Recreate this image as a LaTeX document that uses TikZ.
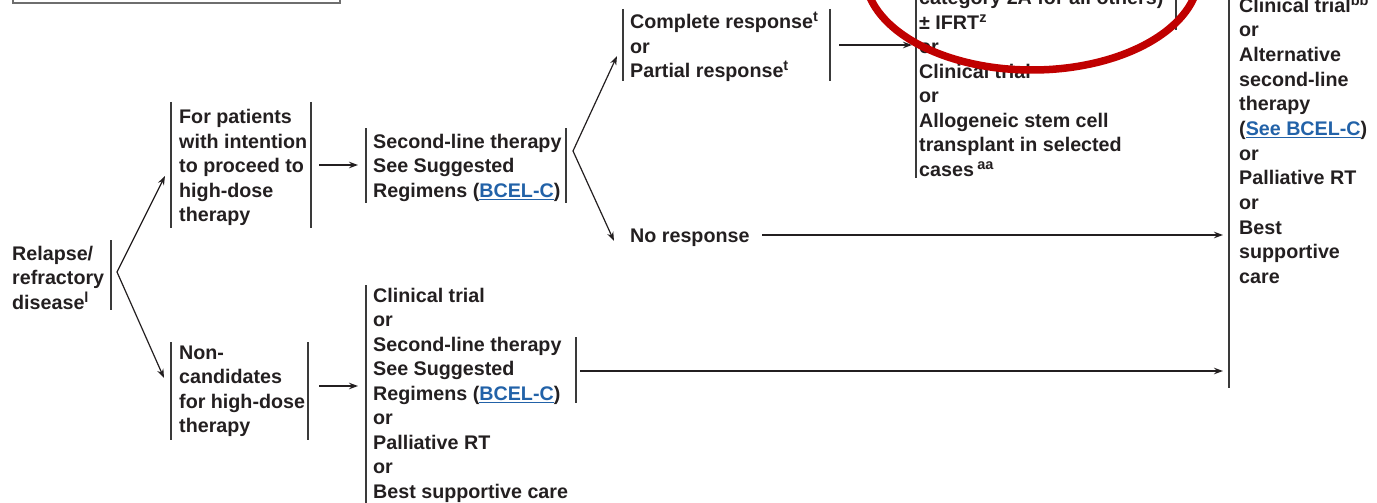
\documentclass[tikz,border=0pt]{standalone}
\usepackage{fontspec}
\setmainfont{Liberation Sans}
\usetikzlibrary{arrows.meta}
\definecolor{ink}{HTML}{231F20}
\definecolor{rulegray}{HTML}{3A3A3A}
\definecolor{frame}{HTML}{6E6E6E}
\definecolor{linkblue}{HTML}{2262A8}
\definecolor{markred}{HTML}{C00000}
\newcommand{\lnk}[1]{{\color{linkblue}\underline{#1}}}
\newcommand{\sups}[1]{\raisebox{7pt}{\fontsize{14.5}{14.5}\selectfont\bfseries #1}}
\newcommand{\firstline}{\rule{0pt}{17.15pt}}
\begin{document}
\begin{tikzpicture}[x=1pt,y=-1pt,
  txt/.style={anchor=north west, inner sep=0pt, align=left, text=ink,
    font=\fontsize{19.7}{24.5}\selectfont\bfseries, execute at begin node=\firstline},
  wide/.style={font=\fontsize{19.7}{24.65}\selectfont\bfseries},
  bar/.style={draw=rulegray, line width=1.1pt},
  arr/.style={draw=ink, line width=1.2pt, -{Stealth[length=9pt,width=6.5pt]}},
  ring/.style={draw=markred, line width=7.5pt},
]
\useasboundingbox (0,0) rectangle (1377,503);
\clip (0,0) rectangle (1377,503);

% frame of the box above
\draw[draw=frame, line width=1.5pt] (13,-10) rectangle (340,3);

% text blocks
\node[txt] (relapse) at (12,246) {Relapse/\\refractory\\disease\sups{l}};
\node[txt] (hdt) at (179,109.5) {For patients\\with intention\\to proceed to\\high-dose\\therapy};
\node[txt] (second) at (373,134) {Second-line therapy\\See Suggested\\Regimens (\lnk{BCEL-C})};
\node[txt] (resp) at (630,12) {Complete response\sups{t}\\or\\Partial response\sups{t}};
\node[txt] (consol) at (919,-9.5) {category 2A for all others)\\± IFRT\sups{z}\\or\\Clinical trial\\or\\Allogeneic stem cell\\transplant in selected\\cases\,\sups{aa}};
\node[txt, wide] (salvage) at (1239,-5.5) {Clinical trial\sups{bb}\\or\\Alternative\\second-line\\therapy\\(\lnk{See BCEL-C})\\or\\Palliative RT\\or\\Best\\supportive\\care};
\node[txt] (noresp) at (630,225.5) {No response};
\node[txt] (noncand) at (179,345.5) {Non-\\candidates\\for high-dose\\therapy};
\node[txt] (options) at (373,288) {Clinical trial\\or\\Second-line therapy\\See Suggested\\Regimens (\lnk{BCEL-C})\\or\\Palliative RT\\or\\Best supportive care};

% side bars
\draw[bar] (111,240) -- (111,310);
\draw[bar] (171,102) -- (171,228);
\draw[bar] (311,102) -- (311,228);
\draw[bar] (366,128) -- (366,203);
\draw[bar] (566,128) -- (566,203);
\draw[bar] (623,9) -- (623,81);
\draw[bar] (830,9) -- (830,81);
\draw[bar] (916,-5) -- (916,178);
\draw[bar] (1176,-5) -- (1176,30);
\draw[bar] (1229,-5) -- (1229,388);
\draw[bar] (171,342) -- (171,440);
\draw[bar] (308,342) -- (308,440);
\draw[bar] (366,285) -- (366,510);
\draw[bar] (576,337) -- (576,403);

% connector end points
\coordinate (forkA) at (117,272);
\coordinate (hdt-in) at (165,176);
\coordinate (noncand-in) at (164,378);
\coordinate (hdt-out) at (319,165);
\coordinate (second-in) at (358,165);
\coordinate (forkB) at (573,151);
\coordinate (resp-in) at (617,56);
\coordinate (noresp-in) at (614,241);
\coordinate (resp-out) at (839,45);
\coordinate (consol-in) at (912,45);
\coordinate (noresp-out) at (762,235);
\coordinate (salvage-in1) at (1223,235);
\coordinate (noncand-out) at (319,386);
\coordinate (options-in) at (358,386);
\coordinate (options-out) at (580,371);
\coordinate (salvage-in2) at (1223,371);

% connectors
\draw[arr] (forkA) -- (hdt-in);
\draw[arr] (forkA) -- (noncand-in);
\draw[arr] (hdt-out) -- (second-in);
\draw[arr] (forkB) -- (resp-in);
\draw[arr] (forkB) -- (noresp-in);
\draw[arr] (resp-out) -- (consol-in);
\draw[arr] (noresp-out) -- (salvage-in1);
\draw[arr] (noncand-out) -- (options-in);
\draw[arr] (options-out) -- (salvage-in2);

% red highlight ring
\draw[ring] (1032,-26) ellipse [x radius=167pt, y radius=96pt];
\end{tikzpicture}
\end{document}
